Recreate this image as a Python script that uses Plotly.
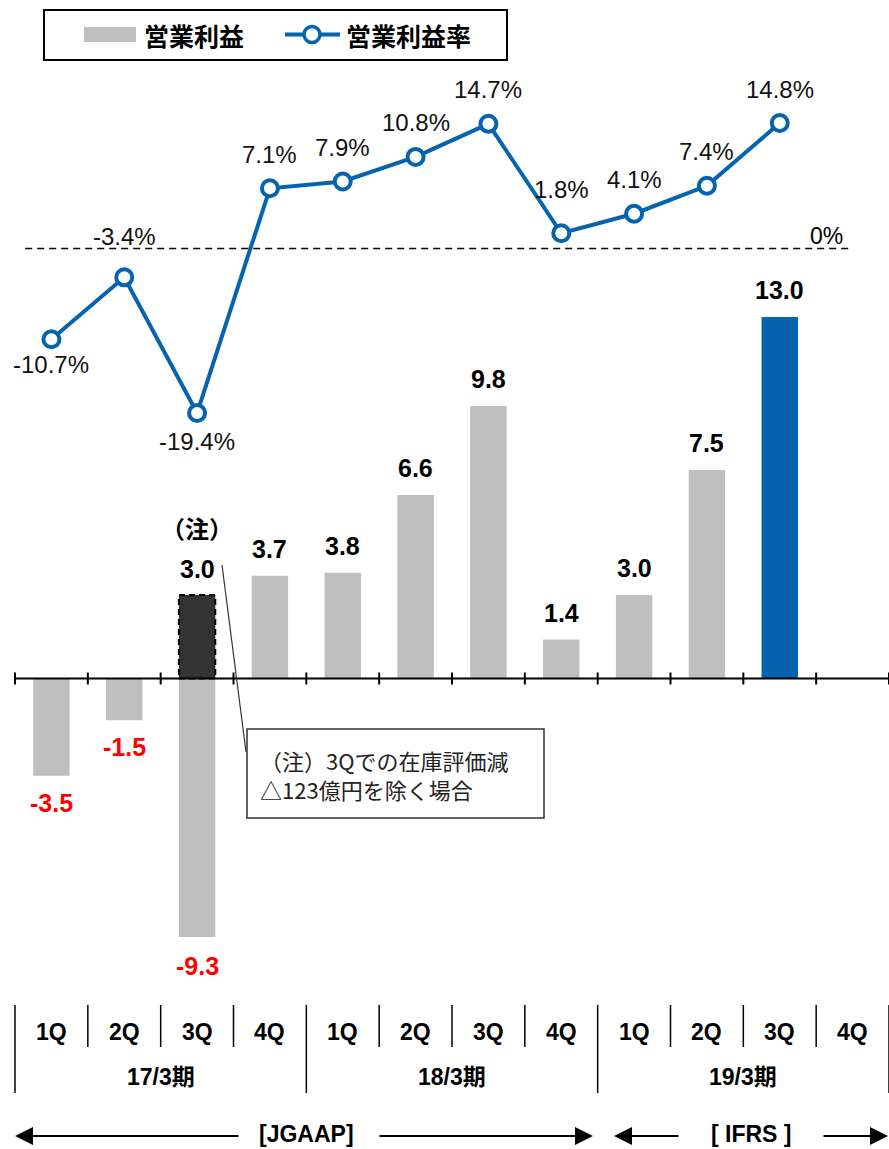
import plotly.graph_objects as go

# ---- data -------------------------------------------------------------
quarters = ["1Q", "2Q", "3Q", "4Q"] * 3
fiscal_years = ["17/3期", "18/3期", "19/3期"]
op_profit = [-3.5, -1.5, -9.3, 3.7, 3.8, 6.6, 9.8, 1.4, 3.0, 7.5, 13.0]      # 営業利益
op_margin = [-10.7, -3.4, -19.4, 7.1, 7.9, 10.8, 14.7, 1.8, 4.1, 7.4, 14.8]  # 営業利益率 (%)
adjusted_3q = 3.0          # 17/3期 3Q excluding inventory write-down
adjusted_index = 2
highlight_index = 10       # latest quarter shown in blue
note_lines = ["（注）3Qでの在庫評価減", "△123億円を除く場合"]

# ---- style ------------------------------------------------------------
W, H = 889, 1149
GRAY = "#BFBFBF"
BLUE = "#0563AF"
DARK = "#333333"
RED = "#FF0000"
FONT = "Liberation Sans, Arial, Noto Sans CJK JP, sans-serif"
CJK = "Noto Sans CJK JP, Liberation Sans, sans-serif"

LEFT_PX = 15                      # left edge of the first quarter slot
SLOT = (W - LEFT_PX) / len(quarters)
ZERO_BAR_PX, BAR_PX_PER_UNIT = 678.5, 27.8
ZERO_LINE_PX, LINE_PX_PER_PCT = 248.5, 8.48


def fx(px):
    return px / W


def fy(py):
    return 1 - py / H


idx = list(range(len(quarters)))
n = len(op_profit)

fig = go.Figure()

bar_colors = [BLUE if i == highlight_index else GRAY for i in range(n)]
fig.add_trace(go.Bar(
    x=idx[:n], y=op_profit, width=0.5, marker=dict(color=bar_colors, line=dict(width=0)),
    name="営業利益", yaxis="y", showlegend=False, hoverinfo="skip",
))
fig.add_trace(go.Bar(
    x=[adjusted_index], y=[adjusted_3q], width=0.5,
    marker=dict(color=DARK, line=dict(width=0)),
    name="営業利益（注）", yaxis="y", showlegend=False, hoverinfo="skip",
))
fig.add_trace(go.Scatter(
    x=idx[:len(op_margin)], y=op_margin, mode="lines+markers", yaxis="y2",
    line=dict(color=BLUE, width=4),
    marker=dict(symbol="circle", size=16, color="white", line=dict(color=BLUE, width=4)),
    name="営業利益率", showlegend=False, hoverinfo="skip",
))

shapes = []
annotations = []

# dashed outline around the adjusted 3Q bar
shapes.append(dict(type="rect", xref="x", yref="y",
                   x0=adjusted_index - 0.25, x1=adjusted_index + 0.25, y0=0, y1=adjusted_3q,
                   line=dict(color="black", width=2, dash="6px,4px"), layer="above"))

# category axis at zero with tick marks at slot boundaries
shapes.append(dict(type="line", xref="x", yref="y", x0=-0.5, x1=len(quarters) - 0.5, y0=0, y1=0,
                   line=dict(color="black", width=2), layer="above"))
for b in range(len(quarters) + 1):
    shapes.append(dict(type="line", xref="x", yref="y", ysizemode="pixel", yanchor=0,
                       x0=b - 0.5, x1=b - 0.5, y0=-6, y1=6,
                       line=dict(color="black", width=2), layer="above"))

# 0% reference line for the margin series
shapes.append(dict(type="line", xref="x", yref="y2", x0=-0.36, x1=11.0, y0=0, y1=0,
                   line=dict(color="black", width=1.5, dash="7px,5px")))
annotations.append(dict(xref="x", yref="y2", x=11.0, y=0, xanchor="right", yanchor="bottom",
                        xshift=-8, yshift=-2, text="0%", showarrow=False,
                        font=dict(family=FONT, size=23, color="black")))

# bar value labels
for i, v in enumerate(op_profit):
    if i == adjusted_index:
        continue
    pos = v >= 0
    annotations.append(dict(xref="x", yref="y", x=i, y=v, xanchor="center", yanchor="middle",
                            yshift=27 if pos else -27, text=f"{v:.1f}", showarrow=False,
                            font=dict(family=FONT, size=25, weight="bold",
                                      color="black" if pos else RED)))
# 3Q: reported value below, adjusted value with note marker above
annotations.append(dict(xref="x", yref="y", x=adjusted_index, y=op_profit[adjusted_index],
                        xanchor="center", yanchor="middle", yshift=-29,
                        text=f"{op_profit[adjusted_index]:.1f}", showarrow=False,
                        font=dict(family=FONT, size=25, weight="bold", color=RED)))
annotations.append(dict(xref="x", yref="y", x=adjusted_index, y=adjusted_3q,
                        xanchor="center", yanchor="middle", yshift=26,
                        text=f"{adjusted_3q:.1f}", showarrow=False,
                        font=dict(family=FONT, size=25, weight="bold", color="black")))
annotations.append(dict(xref="x", yref="y", x=adjusted_index, y=adjusted_3q,
                        xanchor="center", yanchor="middle", yshift=68, text="（注）",
                        showarrow=False,
                        font=dict(family=CJK, size=24, weight="bold", color="black")))

# margin labels
label_shift = {0: -25, 1: 41, 2: -28, 7: 44}
for i, v in enumerate(op_margin):
    annotations.append(dict(xref="x", yref="y2", x=i, y=v, xanchor="center", yanchor="middle",
                            yshift=label_shift.get(i, 34), text=f"{v:.1f}%", showarrow=False,
                            font=dict(family=FONT, size=24, color="#111111")))

# note box with leader line
shapes.append(dict(type="line", xref="paper", yref="paper",
                   x0=fx(222), y0=fy(565), x1=fx(246), y1=fy(752),
                   line=dict(color="#333333", width=1.2)))
shapes.append(dict(type="rect", xref="paper", yref="paper",
                   x0=fx(247), x1=fx(544), y0=fy(729), y1=fy(818),
                   line=dict(color="#333333", width=1.5), fillcolor="white"))
for line_no, line_text in enumerate(note_lines):
    annotations.append(dict(xref="paper", yref="paper", x=fx(259), y=fy(760 + 29 * line_no),
                            xanchor="left", yanchor="middle", align="left", text=line_text,
                            showarrow=False, borderpad=0,
                            font=dict(family=CJK, size=22, color="#222222")))

# quarter / fiscal-year header below the chart
for b in range(len(quarters) + 1):
    long = b % 4 == 0
    shapes.append(dict(type="line", xref="x", yref="paper", x0=b - 0.5, x1=b - 0.5,
                       y0=fy(1005), y1=fy(1093 if long else 1047),
                       line=dict(color="black", width=1.5)))
for i, q in enumerate(quarters):
    annotations.append(dict(xref="x", yref="paper", x=i, y=fy(1032), xanchor="center",
                            yanchor="middle", text=q, showarrow=False,
                            font=dict(family=FONT, size=23, weight="bold", color="black")))
for k, fy_label in enumerate(fiscal_years):
    annotations.append(dict(xref="x", yref="paper", x=4 * k + 1.5, y=fy(1077),
                            xanchor="center", yanchor="middle", text=fy_label, showarrow=False,
                            font=dict(family=FONT, size=23, weight="bold", color="black")))

# accounting standard spans with arrows
for head, tail in [(15, 240), (593, 378), (614, 680), (888, 822)]:
    annotations.append(dict(xref="paper", yref="paper", x=fx(head), y=fy(1136),
                            ax=tail - head, ay=0, axref="pixel", ayref="pixel", text="",
                            showarrow=True, arrowhead=2, arrowsize=1.8, arrowwidth=2,
                            arrowcolor="black"))
for cx, label in [(306, "[JGAAP]"), (751, "[\u00a0IFRS\u00a0]")]:
    annotations.append(dict(xref="paper", yref="paper", x=fx(cx), y=fy(1134),
                            xanchor="center", yanchor="middle", text=label, showarrow=False,
                            font=dict(family=FONT, size=23, weight="bold", color="black")))

# legend
shapes.append(dict(type="rect", xref="paper", yref="paper", x0=fx(44), x1=fx(507),
                   y0=fy(10), y1=fy(60), line=dict(color="black", width=2), fillcolor="white"))
shapes.append(dict(type="rect", xref="paper", yref="paper", x0=fx(84), x1=fx(136),
                   y0=fy(27), y1=fy(42), line=dict(width=0), fillcolor=GRAY))
shapes.append(dict(type="line", xref="paper", yref="paper", x0=fx(285), x1=fx(340),
                   y0=fy(34.5), y1=fy(34.5), line=dict(color=BLUE, width=4)))
shapes.append(dict(type="circle", xref="paper", yref="paper", x0=fx(304), x1=fx(320),
                   y0=fy(26.5), y1=fy(42.5), line=dict(color=BLUE, width=3.5), fillcolor="white"))
for x_left, label in [(142, "営業利益"), (344, "営業利益率")]:
    annotations.append(dict(xref="paper", yref="paper", x=fx(x_left), y=fy(35), xanchor="left",
                            yanchor="middle", text=label, showarrow=False,
                            font=dict(family=CJK, size=25, weight="bold", color="black")))

bar_range = [-(H - ZERO_BAR_PX) / BAR_PX_PER_UNIT, ZERO_BAR_PX / BAR_PX_PER_UNIT]
line_range = [-(H - ZERO_LINE_PX) / LINE_PX_PER_PCT, ZERO_LINE_PX / LINE_PX_PER_PCT]

fig.update_layout(
    width=W, height=H, margin=dict(l=0, r=0, t=0, b=0, pad=0),
    paper_bgcolor="white", plot_bgcolor="white",
    barmode="overlay", showlegend=False,
    xaxis=dict(range=[-0.5 - LEFT_PX / SLOT, len(quarters) - 0.5], visible=False, fixedrange=True),
    yaxis=dict(range=bar_range, visible=False, fixedrange=True),
    yaxis2=dict(range=line_range, visible=False, overlaying="y", fixedrange=True),
    shapes=shapes, annotations=annotations,
)

fig.write_html("out.html", config={"displayModeBar": False})
